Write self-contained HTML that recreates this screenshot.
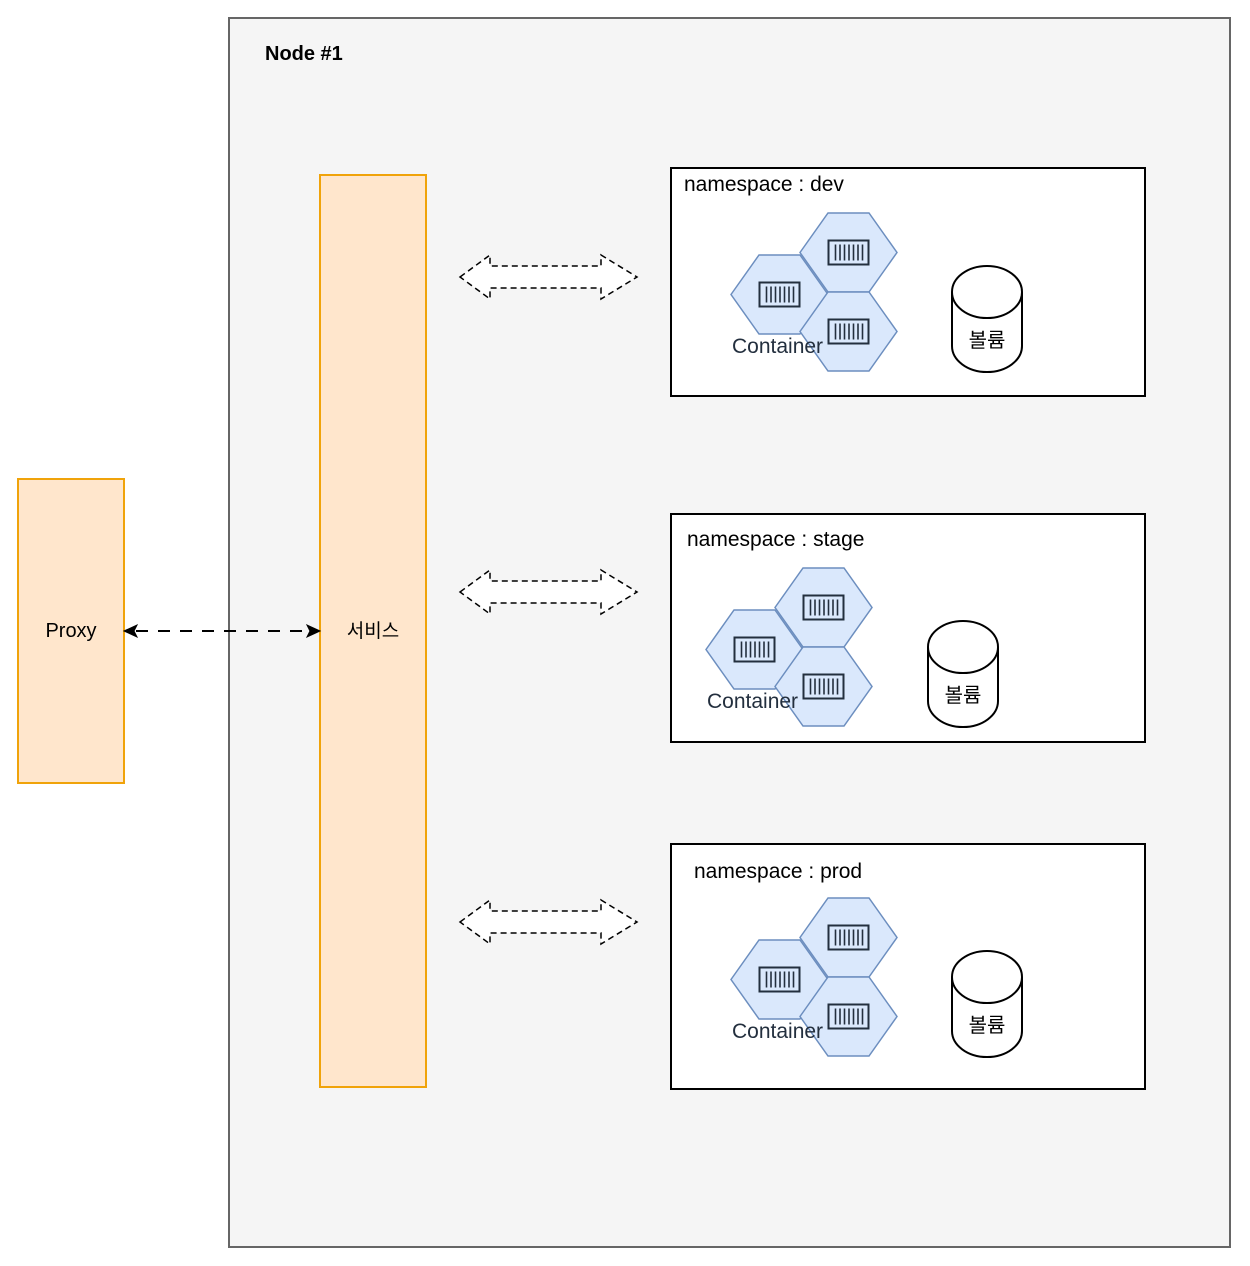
<!DOCTYPE html>
<html><head><meta charset="utf-8"><style>
html,body{margin:0;padding:0;background:#fff;}
svg{display:block;}
text{font-family:"Liberation Sans","Noto Sans CJK KR",sans-serif;}
</style></head><body>
<svg width="1250" height="1266" viewBox="0 0 1250 1266" xmlns="http://www.w3.org/2000/svg">
<defs>
<g id="icon">
<rect x="0" y="0" width="40" height="24" fill="none" stroke="#232F3E" stroke-width="2"/>
<g stroke="#232F3E" stroke-width="1.6">
<line x1="7" y1="4" x2="7" y2="20"/><line x1="11.5" y1="4" x2="11.5" y2="20"/><line x1="16" y1="4" x2="16" y2="20"/><line x1="20.5" y1="4" x2="20.5" y2="20"/><line x1="25" y1="4" x2="25" y2="20"/><line x1="29.5" y1="4" x2="29.5" y2="20"/><line x1="34" y1="4" x2="34" y2="20"/>
</g>
</g>
<g id="hex">
<polygon points="0,39.5 28,0 69,0 97,39.5 69,79 28,79" fill="#dae8fc" stroke="#6c8ebf" stroke-width="1.5"/>
<use href="#icon" x="28.5" y="27.5"/>
</g>
<g id="cluster">
<use href="#hex" x="69" y="-42"/>
<use href="#hex" x="0" y="0"/>
<use href="#hex" x="69" y="37"/>
<text x="1" y="98" font-size="21" fill="#232F3E">Container</text>
</g>
<g id="cyl">
<path d="M0,26 L0,80 A35,26 0 0 0 70,80 L70,26" fill="#fff" stroke="#000" stroke-width="2"/>
<ellipse cx="35" cy="26" rx="35" ry="26" fill="#fff" stroke="#000" stroke-width="2"/>
<text x="35" y="81" font-size="20" text-anchor="middle" fill="#000">볼륨</text>
</g>
<g id="darrow">
<polygon points="0,22 30,0 30,11 141,11 141,0 177,22 141,44 141,33 30,33 30,44" fill="#fff" stroke="#000" stroke-width="1.5" stroke-dasharray="6,4"/>
</g>
</defs>

<rect x="229" y="18" width="1001" height="1229" fill="#f5f5f5" stroke="#666" stroke-width="2"/>
<text x="265" y="60" font-size="20" font-weight="bold" fill="#000">Node #1</text>

<rect x="320" y="175" width="106" height="912" fill="#ffe6cc" stroke="#f0a30a" stroke-width="2"/>
<text x="373" y="637" font-size="19" text-anchor="middle" fill="#000">서비스</text>

<rect x="18" y="479" width="106" height="304" fill="#ffe6cc" stroke="#f0a30a" stroke-width="2"/>
<text x="71" y="637" font-size="20" text-anchor="middle" fill="#000">Proxy</text>

<line x1="136" y1="631" x2="308" y2="631" stroke="#000" stroke-width="2" stroke-dasharray="12,10"/>
<polygon points="124,631 137,625 134,631 137,637" fill="#000" stroke="#000"/>
<polygon points="320,631 307,625 310,631 307,637" fill="#000" stroke="#000"/>

<use href="#darrow" x="460" y="255"/>
<use href="#darrow" x="460" y="570"/>
<use href="#darrow" x="460" y="900"/>

<rect x="671" y="168" width="474" height="228" fill="#fff" stroke="#000" stroke-width="2"/>
<text x="684" y="191" font-size="21" fill="#000">namespace : dev</text>
<use href="#cluster" x="731" y="255"/>
<use href="#cyl" x="952" y="266"/>

<rect x="671" y="514" width="474" height="228" fill="#fff" stroke="#000" stroke-width="2"/>
<text x="687" y="546" font-size="21" fill="#000">namespace : stage</text>
<use href="#cluster" x="706" y="610"/>
<use href="#cyl" x="928" y="621"/>

<rect x="671" y="844" width="474" height="245" fill="#fff" stroke="#000" stroke-width="2"/>
<text x="694" y="878" font-size="21" fill="#000">namespace : prod</text>
<use href="#cluster" x="731" y="940"/>
<use href="#cyl" x="952" y="951"/>
</svg>
</body></html>
